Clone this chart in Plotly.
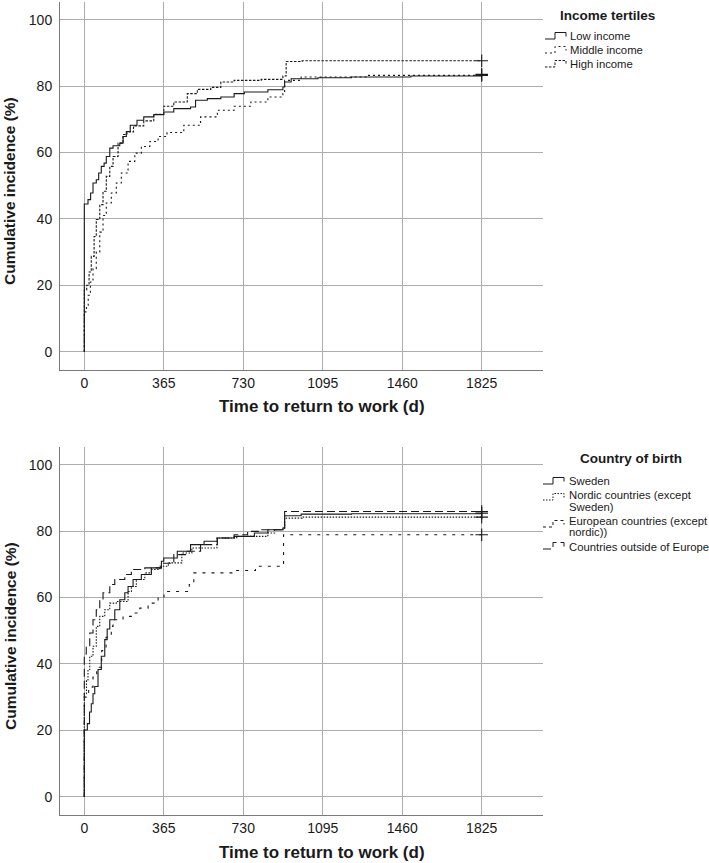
import plotly.graph_objects as go

# ---------------- data ----------------
x_ticks = [0, 365, 730, 1095, 1460, 1825]
y_ticks = [0, 20, 40, 60, 80, 100]

income_names = ["Low income", "Middle income", "High income"]
low_days = [0, 0, 14, 17, 29, 40, 55, 66, 78, 91, 101, 117, 132, 163, 178, 193, 211, 242, 273, 319, 365, 411, 488, 511, 565, 627, 688, 735, 843, 912, 920, 950, 1073, 1227, 1500, 1825]
low_vals = [0, 44.5, 44.5, 45.8, 47.8, 50.8, 51.8, 53.8, 55.8, 56.8, 58.8, 61.3, 62.0, 62.8, 64.8, 66.3, 68.2, 69.7, 70.7, 71.4, 72.2, 73.2, 73.7, 75.7, 76.2, 76.7, 77.7, 78.2, 78.9, 79.7, 81.2, 82.2, 82.5, 82.7, 83.0, 83.2]
mid_days = [0, 0, 10, 18, 28, 40, 55, 71, 86, 101, 124, 147, 170, 201, 232, 262, 301, 339, 380, 457, 534, 611, 688, 765, 843, 912, 920, 996, 1300, 1825]
mid_vals = [0, 12.0, 14.0, 17.0, 21.0, 25.0, 30.0, 36.0, 41.0, 44.8, 47.8, 50.8, 53.8, 57.3, 59.8, 61.8, 63.3, 64.8, 66.0, 68.2, 70.7, 72.7, 73.9, 75.2, 76.7, 77.7, 81.7, 82.7, 83.2, 83.5]
high_days = [0, 0, 11, 22, 32, 45, 55, 71, 86, 101, 117, 132, 155, 178, 196, 226, 273, 319, 365, 411, 473, 519, 581, 627, 688, 812, 912, 927, 1000, 1825]
high_vals = [0, 18.6, 20.0, 24.0, 28.7, 34.7, 39.8, 44.3, 48.3, 52.8, 55.8, 58.8, 62.8, 65.4, 66.2, 68.0, 69.5, 71.5, 73.9, 75.2, 77.7, 79.0, 79.6, 81.2, 81.7, 82.0, 83.0, 87.4, 87.6, 87.6]

country_names = ["Sweden", "Nordic countries (except Sweden)", "European countries (except nordic))", "Countries outside of Europe"]
swe_days = [0, 0, 14, 24, 32, 40, 48, 63, 78, 94, 105, 117, 140, 163, 186, 201, 224, 262, 308, 354, 365, 427, 488, 550, 611, 688, 781, 843, 912, 920, 996, 1227, 1825]
swe_vals = [0, 20.1, 22.0, 25.5, 28.0, 31.0, 33.2, 38.3, 42.3, 47.3, 50.5, 53.3, 56.3, 59.3, 61.4, 63.3, 65.4, 66.9, 68.9, 70.9, 71.9, 73.9, 75.9, 76.9, 77.9, 78.4, 79.4, 80.4, 80.9, 84.6, 85.1, 85.2, 85.4]
nor_days = [0, 0, 10, 17, 25, 40, 55, 71, 94, 117, 147, 201, 216, 239, 278, 308, 347, 386, 448, 494, 609, 700, 843, 874, 912, 920, 1000, 1825]
nor_vals = [0, 31.0, 35.0, 38.3, 42.3, 45.3, 51.3, 54.3, 56.3, 58.3, 58.8, 61.8, 63.3, 65.4, 67.4, 68.4, 69.4, 70.4, 73.4, 74.9, 77.9, 78.4, 79.4, 80.4, 80.9, 83.9, 84.2, 84.2]
eur_days = [0, 0, 20, 40, 57, 80, 100, 124, 132, 178, 216, 255, 293, 339, 366, 482, 503, 694, 786, 915, 1825]
eur_vals = [0, 30.0, 33.0, 36.0, 39.0, 44.0, 48.0, 51.3, 53.3, 54.3, 55.3, 56.8, 58.3, 59.8, 61.8, 63.9, 67.4, 68.1, 69.4, 78.9, 78.9]
out_days = [0, 0, 9, 25, 40, 55, 71, 86, 117, 140, 186, 216, 278, 354, 411, 473, 534, 611, 688, 750, 812, 904, 920, 1825]
out_vals = [0, 43.0, 45.3, 49.3, 53.3, 56.3, 59.3, 61.4, 63.9, 65.4, 66.9, 68.4, 68.9, 70.3, 72.9, 73.9, 75.9, 77.9, 78.9, 79.9, 80.4, 80.9, 85.9, 85.9]

# ---------------- layout geometry ----------------
W, H = 709, 863
L, R, T, B = 60, 166, 2, 48
FONT = "Liberation Sans, Arial, Helvetica, sans-serif"
INK = "#1a1a1a"
GRID = "#adadad"


def px_x(px):
    return (px - L) / (W - L - R)


def px_y(py):
    return (H - B - py) / (H - T - B)


top_dom = [px_y(370), px_y(2)]
bot_dom = [px_y(815), px_y(447)]

fig = go.Figure()

income_series = [(low_days, low_vals, "solid"), (mid_days, mid_vals, "2px,3px"), (high_days, high_vals, "2.5px,1.5px")]
country_series = [(swe_days, swe_vals, "solid"), (nor_days, nor_vals, "1.5px,1.5px"),
                  (eur_days, eur_vals, "3px,6px"), (out_days, out_vals, "8px,4px")]


def add_curves(series, names, xa, ya):
    for (d, v, dash), name in zip(series, names):
        fig.add_trace(go.Scatter(x=d, y=v, mode="lines", line=dict(shape="hv", color=INK, width=1.1, dash=dash),
                                 name=name, showlegend=False, xaxis=xa, yaxis=ya))
        fig.add_trace(go.Scatter(x=[d[-1]], y=[v[-1]], mode="markers",
                                 marker=dict(symbol="cross-thin", size=9, line=dict(color=INK, width=1.1)),
                                 showlegend=False, hoverinfo="skip", xaxis=xa, yaxis=ya))


add_curves(income_series, income_names, "x", "y")
add_curves(country_series, country_names, "x2", "y2")

axis_common = dict(
    range=[-111.6, 2106.5], tickvals=x_ticks, showgrid=True, gridcolor=GRID, gridwidth=1,
    zeroline=False, showline=True, linecolor="#7a7a7a", linewidth=1, ticks="",
    tickfont=dict(family=FONT, size=14, color=INK), ticklabelstandoff=0,
)
yaxis_common = dict(
    range=[-5.5, 105.3], tickvals=y_ticks, showgrid=True, gridcolor=GRID, gridwidth=1,
    zeroline=False, showline=True, linecolor="#7a7a7a", linewidth=1, ticks="",
    tickfont=dict(family=FONT, size=14, color=INK), ticklabelstandoff=4,
)

fig.update_layout(
    width=W, height=H, margin=dict(l=L, r=R, t=T, b=B),
    paper_bgcolor="white", plot_bgcolor="white", showlegend=False,
    xaxis=dict(domain=[0, 1], anchor="y", **axis_common),
    yaxis=dict(domain=top_dom, anchor="x", **yaxis_common),
    xaxis2=dict(domain=[0, 1], anchor="y2", **axis_common),
    yaxis2=dict(domain=bot_dom, anchor="x2", **yaxis_common),
)

ann = []
shapes = []

# axis titles
for cy_x, cy_y in [(406, 191), (852, 636)]:
    ann.append(dict(text="Time to return to work (d)", x=px_x(322), y=px_y(cy_x), xref="paper", yref="paper",
                    xanchor="center", yanchor="middle", showarrow=False,
                    font=dict(family=FONT, size=17, color=INK, weight="bold")))
    ann.append(dict(text="Cumulative incidence (%)", x=px_x(10), y=px_y(cy_y), xref="paper", yref="paper",
                    xanchor="center", yanchor="middle", showarrow=False, textangle=-90,
                    font=dict(family=FONT, size=15.5, color=INK, weight="bold")))

# legend titles
ann.append(dict(text="Income tertiles", x=px_x(607.5), y=px_y(15), xref="paper", yref="paper",
                xanchor="center", yanchor="middle", showarrow=False,
                font=dict(family=FONT, size=13.5, color=INK, weight="bold")))
ann.append(dict(text="Country of birth", x=px_x(631), y=px_y(459), xref="paper", yref="paper",
                xanchor="center", yanchor="middle", showarrow=False,
                font=dict(family=FONT, size=13.5, color=INK, weight="bold")))


def step_path(x0, yc):
    pts = [(x0, yc + 3), (x0 + 10, yc + 3), (x0 + 10, yc - 3.5), (x0 + 21, yc - 3.5), (x0 + 21, yc + 0.5)]
    return "M" + " L".join(f"{px_x(a):.5f},{px_y(b):.5f}" for a, b in pts)


def legend_item(lines, dash, ys, sym_y, x_sym=545, x_txt=568):
    shapes.append(dict(type="path", path=step_path(x_sym, sym_y), xref="paper", yref="paper",
                       line=dict(color=INK, width=1, dash=dash)))
    for t, yy in zip(lines, ys):
        ann.append(dict(text=t, x=px_x(x_txt), y=px_y(yy), xref="paper", yref="paper",
                        xanchor="left", yanchor="middle", showarrow=False,
                        font=dict(family=FONT, size=11.3, color=INK)))


legend_item(["Low income"], "solid", [36], 36)
legend_item(["Middle income"], "2px,3px", [50], 50)
legend_item(["High income"], "2.5px,1.5px", [64], 64)

legend_item(["Sweden"], "solid", [481], 481, x_sym=543, x_txt=567)
legend_item(["Nordic countries (except", "Sweden)"], "1.5px,1.5px", [495, 507], 497, x_sym=543, x_txt=567)
legend_item(["European countries (except", "nordic))"], "3px,3px", [521, 532], 524, x_sym=543, x_txt=567)
legend_item(["Countries outside of Europe"], "8px,4px", [547], 546, x_sym=543, x_txt=567)

fig.update_layout(annotations=ann, shapes=shapes)

fig.write_html("out.html", config={"displayModeBar": False},
               post_script="document.body.style.margin='0';")
